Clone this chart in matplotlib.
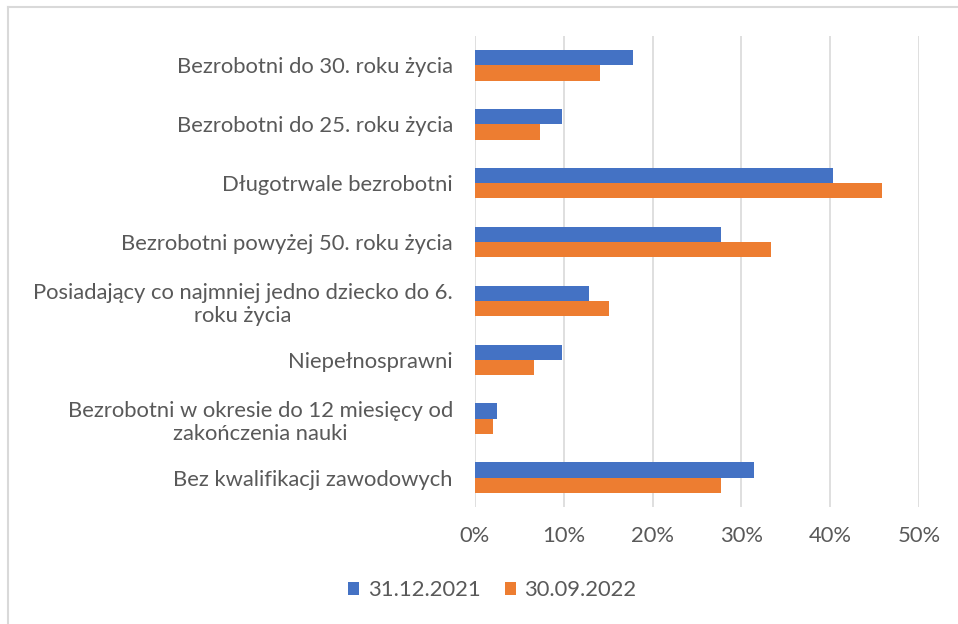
import matplotlib.pyplot as plt
import numpy as np
from matplotlib.lines import Line2D
from matplotlib.ticker import PercentFormatter

kategorie = [
    'Bezrobotni do 30. roku życia',
    'Bezrobotni do 25. roku życia',
    'Długotrwale bezrobotni',
    'Bezrobotni powyżej 50. roku życia',
    'Posiadający co najmniej jedno dziecko do 6.\nroku życia',
    'Niepełnosprawni',
    'Bezrobotni w okresie do 12 miesięcy od\nzakończenia nauki',
    'Bez kwalifikacji zawodowych',
]
seria_2021 = [17.8, 9.8, 40.3, 27.7, 12.8, 9.8, 2.5, 31.4]
seria_2022 = [14.1, 7.3, 45.8, 33.3, 15.1, 6.7, 2.0, 27.7]
etykiety_serii = ['31.12.2021', '30.09.2022']

plt.rcParams['font.family'] = ['Lato', 'DejaVu Sans']
szary = '#595959'

fig = plt.figure(figsize=(9.58, 6.24), dpi=100)
ax = fig.add_axes([0.4958, 0.1875, 0.4635, 0.7548])

y = np.arange(len(kategorie))
h = 0.26
ax.barh(y - h / 2, seria_2021, height=h, color='#4472c4', label=etykiety_serii[0])
ax.barh(y + h / 2, seria_2022, height=h, color='#ed7d31', label=etykiety_serii[1])

ax.set_ylim(len(kategorie) - 0.5, -0.5)
ax.set_xlim(0, 50)
ax.set_xticks(range(0, 51, 10))
ax.xaxis.set_major_formatter(PercentFormatter(decimals=0))
ax.set_yticks(y)
ax.set_yticklabels(kategorie, multialignment='center', linespacing=1.2)

ax.grid(axis='x', color='#d9d9d9', linewidth=1.2)
ax.set_axisbelow(True)
for s in ax.spines.values():
    s.set_visible(False)
ax.tick_params(length=0, labelsize=15.8, colors=szary)
ax.tick_params(axis='x', pad=14)
ax.tick_params(axis='y', pad=16)

fig.legend(loc='center', bbox_to_anchor=(0.514, 0.054), ncol=2, frameon=False,
           fontsize=15.8, labelcolor=szary, handlelength=0.5, handleheight=0.5,
           handletextpad=0.4, columnspacing=1.1)

# ramka wykresu
fig.add_artist(Line2D([8 / 958, 8 / 958], [0, 1 - 7 / 624], color='#d9d9d9', linewidth=1.5))
fig.add_artist(Line2D([8 / 958, 1], [1 - 7 / 624, 1 - 7 / 624], color='#d9d9d9', linewidth=1.5))

fig.savefig('out.png', dpi=100)
